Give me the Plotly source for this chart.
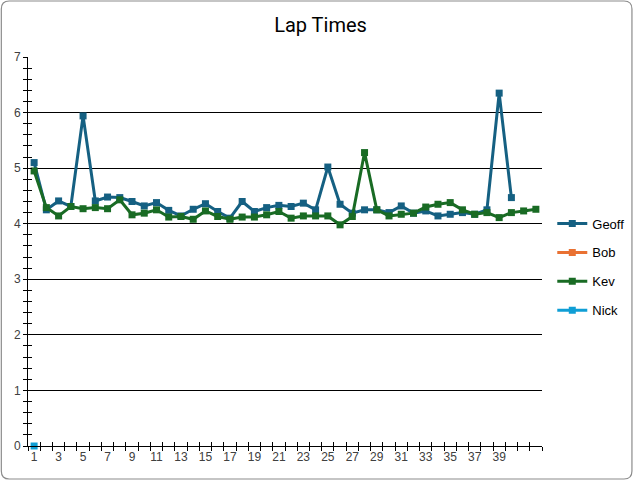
import plotly.graph_objects as go

laps = list(range(1, 43))
geoff = [5.10, 4.25, 4.41, 4.31, 5.94, 4.41, 4.48, 4.47, 4.40, 4.32,
         4.38, 4.24, 4.14, 4.26, 4.36, 4.22, 4.10, 4.40, 4.22, 4.29,
         4.33, 4.31, 4.37, 4.25, 5.02, 4.35, 4.19, 4.25, 4.25, 4.20,
         4.32, 4.19, 4.23, 4.14, 4.17, 4.20, 4.17, 4.25, 6.35, 4.47]
bob = []
kev = [4.95, 4.29, 4.14, 4.31, 4.27, 4.29, 4.27, 4.43, 4.16, 4.19,
       4.25, 4.12, 4.13, 4.08, 4.23, 4.13, 4.08, 4.12, 4.12, 4.16,
       4.22, 4.10, 4.14, 4.14, 4.14, 3.98, 4.13, 5.28, 4.25, 4.14,
       4.17, 4.19, 4.30, 4.35, 4.38, 4.25, 4.17, 4.20, 4.11, 4.20,
       4.23, 4.26]
nick = [0.0]
label_laps = list(range(1, 40, 2))

colors = {"Geoff": "#156082", "Bob": "#E97132", "Kev": "#196B24", "Nick": "#0F9ED5"}
series = [("Geoff", geoff), ("Bob", bob), ("Kev", kev), ("Nick", nick)]

W, H = 641, 481
L, R, T, B = 28, 93, 57, 35
pw, ph = W - L - R, H - T - B

fig = go.Figure()
for name, vals in series:
    xs = laps[:len(vals)] if vals else [None]
    ys = vals if vals else [None]
    fig.add_trace(go.Scatter(
        x=xs, y=ys, name=name, mode="lines+markers", cliponaxis=False,
        line=dict(color=colors[name], width=3),
        marker=dict(symbol="square", size=7, color=colors[name]),
        legendgroup=name, xaxis="x", yaxis="y"))

# dummy trace for overlay axes (inner half of cross tick marks)
fig.add_trace(go.Scatter(x=[None], y=[None], xaxis="x2", yaxis="y2",
                         showlegend=False, hoverinfo="skip"))

font = "Liberation Sans, Arial, sans-serif"
xr = [0.5, 42.5]
yr = [0, 7]

def px_x(p):
    return (p - L) / pw

def px_y(p):
    return (H - B - p) / ph

x0, x1 = px_x(1), px_x(W - 2)
y0, y1 = px_y(H - 2), px_y(1)
rx, ry = 8 / pw, 8 / ph
border = (f"M {x0+rx},{y1} L {x1-rx},{y1} Q {x1},{y1} {x1},{y1-ry} "
          f"L {x1},{y0+ry} Q {x1},{y0} {x1-rx},{y0} L {x0+rx},{y0} "
          f"Q {x0},{y0} {x0},{y0+ry} L {x0},{y1-ry} Q {x0},{y1} {x0+rx},{y1} Z")

fig.update_layout(
    width=W, height=H,
    margin=dict(l=L, r=R, t=T, b=B),
    paper_bgcolor="white", plot_bgcolor="white",
    font=dict(family=font, color="#404040", size=12),
    title=dict(text="Lap Times", x=0.5, xref="container", y=1 - 25 / H,
               yanchor="middle", font=dict(size=20, color="#000000", family="Roboto")),
    showlegend=True,
    legend=dict(x=1.02, xanchor="left", y=0.46, yanchor="middle",
                font=dict(size=13, color="#000000"), tracegroupgap=9,
                traceorder="grouped", bgcolor="rgba(0,0,0,0)"),
    xaxis=dict(range=xr, tickmode="array", tickvals=label_laps, automargin=False,
               ticktext=[str(v) for v in label_laps], ticks="",
               showgrid=False, showline=True, linecolor="#000000", linewidth=1,
               zeroline=False, tickfont=dict(size=12, color="#404040"),
               minor=dict(tickmode="linear", tick0=0.5, dtick=1, ticks="outside",
                          ticklen=4, tickcolor="#000000", showgrid=False)),
    yaxis=dict(range=yr, tickmode="linear", tick0=0, dtick=1, ticks="outside",
               automargin=False,
               ticklen=4, tickcolor="#000000", showgrid=True, gridcolor="#000000",
               gridwidth=1, showline=True, linecolor="#000000", linewidth=1,
               zeroline=False, tickfont=dict(size=12, color="#404040"),
               minor=dict(tickmode="linear", tick0=0, dtick=0.2, ticks="outside",
                          ticklen=4, tickcolor="#000000", showgrid=False)),
    xaxis2=dict(range=xr, overlaying="x", anchor="y", side="bottom", automargin=False,
                tickmode="linear", tick0=0.5, dtick=1, ticks="inside", ticklen=4,
                tickcolor="#000000", showticklabels=False, showgrid=False,
                showline=False, zeroline=False),
    yaxis2=dict(range=yr, overlaying="y", anchor="x", side="left", automargin=False,
                tickmode="linear", tick0=0, dtick=0.2, ticks="inside", ticklen=4,
                tickcolor="#000000", showticklabels=False, showgrid=False,
                showline=False, zeroline=False),
    shapes=[dict(type="path", path=border, xref="paper", yref="paper",
                 line=dict(color="#8c8c8c", width=1.2), layer="below")],
)

fig.write_html("out.html", config={"displayModeBar": False},
               post_script="document.body.style.margin='0px';"
                           "document.body.style.overflow='hidden';")
